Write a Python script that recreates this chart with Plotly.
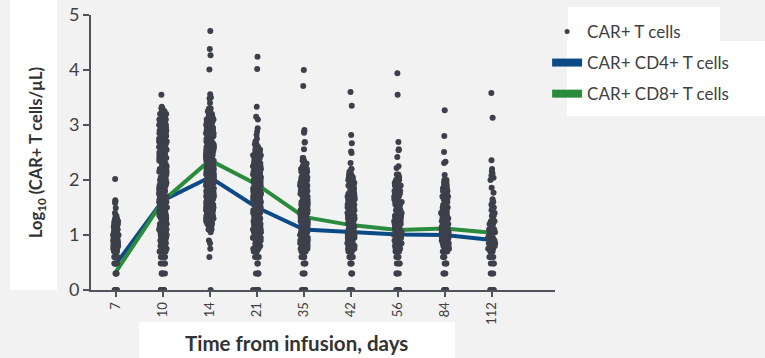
import plotly.graph_objects as go

# ---------------- data ----------------
days = ["7", "10", "14", "21", "35", "42", "56", "84", "112"]

# value grid (log10 CAR+ T cells/uL) used for the dense parts of each strip
levels = [0.00, 0.30, 0.48, 0.60,
          0.70, 0.75, 0.80, 0.85, 0.90, 0.95, 1.00, 1.05, 1.10, 1.15,
          1.20, 1.25, 1.30, 1.35, 1.40, 1.45, 1.50, 1.55, 1.60, 1.65,
          1.70, 1.75, 1.80, 1.85, 1.90, 1.95, 2.00, 2.05, 2.10, 2.15,
          2.20, 2.25, 2.30, 2.35, 2.40, 2.45, 2.50, 2.55, 2.60, 2.65,
          2.70, 2.75, 2.80, 2.85, 2.90, 2.95, 3.00, 3.05, 3.10, 3.15,
          3.20, 3.25, 3.30]

# number of patients at each grid value, per day
n_d7 = [5, 4, 5, 5,
        6, 5, 6, 5, 6, 5, 5, 4, 4, 4,
        3, 3, 2, 2, 1, 0, 0, 0, 0, 0,
        0, 0, 0, 0, 0, 0, 0, 0, 0, 0,
        0, 0, 0, 0, 0, 0, 0, 0, 0, 0,
        0, 0, 0, 0, 0, 0, 0, 0, 0, 0,
        0, 0, 0]
n_d10 = [6, 5, 4, 4,
         4, 4, 5, 5, 5, 5, 5, 5, 5, 5,
         5, 5, 5, 5, 5, 5, 5, 6, 6, 6,
         6, 6, 6, 6, 6, 6, 6, 6, 6, 6,
         6, 5, 5, 5, 5, 5, 5, 5, 5, 5,
         5, 5, 5, 4, 4, 4, 4, 4, 4, 3,
         3, 3, 2]
n_d14 = [1, 0, 0, 1,
         0, 1, 0, 1, 1, 0, 0, 1, 2, 3,
         4, 5, 6, 7, 7, 7, 7, 7, 7, 7,
         7, 7, 7, 7, 7, 7, 7, 7, 7, 7,
         7, 7, 7, 7, 7, 7, 7, 7, 7, 7,
         7, 7, 7, 6, 6, 6, 5, 5, 5, 4,
         3, 3, 2]
n_d21 = [6, 4, 2, 3,
         4, 5, 5, 6, 6, 6, 6, 6, 6, 6,
         6, 6, 6, 6, 6, 6, 6, 6, 6, 6,
         6, 6, 6, 6, 6, 6, 6, 6, 6, 6,
         6, 6, 5, 5, 4, 4, 4, 3, 3, 2,
         2, 1, 0, 0, 0, 0, 0, 0, 0, 0,
         0, 0, 0]
n_d35 = [6, 3, 3, 4,
         5, 5, 5, 5, 5, 5, 5, 5, 5, 5,
         5, 5, 5, 5, 5, 5, 5, 5, 5, 5,
         5, 5, 5, 5, 5, 4, 4, 4, 4, 4,
         3, 3, 3, 2, 2, 0, 0, 0, 0, 0,
         0, 0, 0, 0, 0, 0, 0, 0, 0, 0,
         0, 0, 0]
n_d42 = [6, 3, 3, 4,
         5, 5, 5, 5, 5, 5, 5, 5, 5, 5,
         5, 5, 5, 5, 5, 5, 5, 5, 5, 5,
         5, 5, 4, 4, 4, 4, 4, 3, 3, 2,
         2, 0, 0, 0, 0, 0, 0, 0, 0, 0,
         0, 0, 0, 0, 0, 0, 0, 0, 0, 0,
         0, 0, 0]
n_d56 = [5, 3, 3, 3,
         4, 4, 4, 4, 4, 4, 4, 4, 4, 4,
         4, 4, 4, 4, 4, 4, 4, 4, 4, 4,
         4, 4, 4, 3, 3, 3, 3, 2, 2, 0,
         0, 0, 0, 0, 0, 0, 0, 0, 0, 0,
         0, 0, 0, 0, 0, 0, 0, 0, 0, 0,
         0, 0, 0]
n_d84 = [5, 3, 3, 3,
         4, 4, 4, 4, 4, 4, 4, 4, 4, 4,
         4, 4, 4, 4, 4, 4, 4, 4, 3, 3,
         3, 3, 3, 3, 2, 2, 2, 0, 0, 0,
         0, 0, 0, 0, 0, 0, 0, 0, 0, 0,
         0, 0, 0, 0, 0, 0, 0, 0, 0, 0,
         0, 0, 0]
n_d112 = [5, 3, 3, 3,
          3, 3, 3, 3, 3, 3, 3, 2, 2, 2,
          2, 2, 1, 2, 2, 1, 2, 1, 2, 1,
          0, 0, 0, 0, 0, 0, 0, 0, 0, 0,
          0, 0, 0, 0, 0, 0, 0, 0, 0, 0,
          0, 0, 0, 0, 0, 0, 0, 0, 0, 0,
          0, 0, 0]

# individual scattered values per day
x_d7 = [1.49, 1.58, 1.61, 1.63, 2.02]
x_d10 = [3.33, 3.55]
x_d14 = [3.40, 3.48, 3.50, 3.56, 4.01, 4.27, 4.38, 4.71]
x_d21 = [2.82, 2.88, 2.94, 3.10, 3.15, 3.33, 4.02, 4.24]
x_d35 = [2.56, 2.68, 2.69, 2.86, 2.88, 2.91, 3.71, 4.00]
x_d42 = [2.31, 2.49, 2.52, 2.67, 2.82, 3.35, 3.60]
x_d56 = [2.22, 2.25, 2.42, 2.54, 2.56, 2.69, 3.55, 3.94]
x_d84 = [2.09, 2.31, 2.33, 2.51, 2.80, 3.27]
x_d112 = [1.77, 1.86, 2.00, 2.04, 2.08, 2.12, 2.16, 2.20, 2.36, 3.13, 3.58]

# median lines
cd4_median = [0.47, 1.63, 2.05, 1.50, 1.10, 1.05, 1.01, 1.00, 0.91]
cd8_median = [0.33, 1.62, 2.36, 1.92, 1.33, 1.18, 1.09, 1.12, 1.04]

tick_y = [0, 1, 2, 3, 4, 5]

# ---------------- build point arrays ----------------
counts = [n_d7, n_d10, n_d14, n_d21, n_d35, n_d42, n_d56, n_d84, n_d112]
extras = [x_d7, x_d10, x_d14, x_d21, x_d35, x_d42, x_d56, x_d84, x_d112]
px, py = [], []
for d, cnt, ext in zip(days, counts, extras):
    for v, n in zip(levels, cnt):
        px += [d] * n
        py += [v] * n
    px += [d] * len(ext)
    py += list(ext)

PT = "#3d404b"
AX = "#50535c"
BLUE = "#0c4a87"
GREEN = "#2a8b3d"
FONT = "Lato"

fig = go.Figure()

# median lines (main axes, drawn under the points)
fig.add_trace(go.Scatter(x=days, y=cd4_median, mode="lines",
                         line=dict(color=BLUE, width=4), showlegend=False,
                         name="CAR+ CD4+ T cells"))
fig.add_trace(go.Scatter(x=days, y=cd8_median, mode="lines",
                         line=dict(color=GREEN, width=4), showlegend=False,
                         name="CAR+ CD8+ T cells"))

# jittered points (overlay axes, drawn above the lines)
fig.add_trace(go.Box(x=px, y=py, xaxis="x2", yaxis="y2",
                     boxpoints="all", jitter=1, pointpos=0, width=0.17,
                     marker=dict(size=6, color=PT),
                     line=dict(width=0, color="rgba(0,0,0,0)"),
                     fillcolor="rgba(0,0,0,0)", showlegend=False,
                     name="CAR+ T cells", hoverinfo="y"))

# legend entries
fig.add_trace(go.Scatter(x=[None], y=[None], xaxis="x2", yaxis="y2",
                         mode="markers", marker=dict(size=5, color=PT),
                         name="CAR+ T cells", legendgroup="a", cliponaxis=False))
fig.add_trace(go.Scatter(x=[None], y=[None], xaxis="x2", yaxis="y2",
                         mode="lines", line=dict(color=BLUE, width=8),
                         name="CAR+ CD4+ T cells", legendgroup="b", cliponaxis=False))
fig.add_trace(go.Scatter(x=[None], y=[None], xaxis="x2", yaxis="y2",
                         mode="lines", line=dict(color=GREEN, width=8),
                         name="CAR+ CD8+ T cells", legendgroup="c", cliponaxis=False))

xr = [-0.53, 9.34]
fig.update_layout(
    width=765, height=358,
    margin=dict(l=91, r=210, t=15, b=68, autoexpand=False),
    paper_bgcolor="#f2f2f2", plot_bgcolor="rgba(0,0,0,0)",
    font=dict(family=FONT, color="#404040"),
    xaxis=dict(type="category", categoryorder="array", categoryarray=days,
               range=xr, showline=True, linewidth=2, linecolor=AX,
               ticks="outside", ticklen=5, tickwidth=1.5, tickcolor=AX,
               tickangle=-90, tickfont=dict(size=13, color="#404040"),
               showgrid=False, zeroline=False, automargin=False),
    yaxis=dict(range=[0, 5], tickvals=tick_y, showline=True, linewidth=2,
               linecolor=AX, ticks="outside", ticklen=6, tickwidth=2,
               tickcolor=AX, tickfont=dict(size=18, color="#404040"),
               showgrid=False, zeroline=False, automargin=False,
               title=dict(text="<b>Log<sub>10</sub> (CAR+ T cells/µL)</b>",
                          font=dict(size=16.5, color="#333333"), standoff=22)),
    xaxis2=dict(type="category", categoryorder="array", categoryarray=days,
                range=xr, overlaying="x", visible=False),
    yaxis2=dict(range=[0, 5], overlaying="y", visible=False),
    legend=dict(x=0.983, xanchor="left", y=1.004, yanchor="top",
                bgcolor="rgba(0,0,0,0)", font=dict(size=17, color="#404040"),
                tracegroupgap=6),
    showlegend=True,
    shapes=[
        dict(type="rect", xref="paper", yref="paper", x0=-0.1746, x1=-0.0733,
             y0=0.0, y1=1.0545, fillcolor="white", line=dict(width=0), layer="below"),
        dict(type="rect", xref="paper", yref="paper", x0=0.1034, x1=0.7845,
             y0=-0.2473, y1=-0.1164, fillcolor="white", line=dict(width=0), layer="below"),
        dict(type="rect", xref="paper", yref="paper", x0=1.028, x1=1.3556,
             y0=0.9055, y1=1.029, fillcolor="white", line=dict(width=0), layer="below"),
        dict(type="rect", xref="paper", yref="paper", x0=1.0259, x1=1.4526,
             y0=0.6327, y1=0.9055, fillcolor="white", line=dict(width=0), layer="below"),
    ],
    annotations=[
        dict(text="<b>Time from infusion, days</b>", xref="paper", yref="paper",
             x=0.442, y=-0.193, xanchor="center", yanchor="middle",
             showarrow=False, font=dict(size=20.5, color="#333333")),
    ],
)

fig.write_html("out.html")
